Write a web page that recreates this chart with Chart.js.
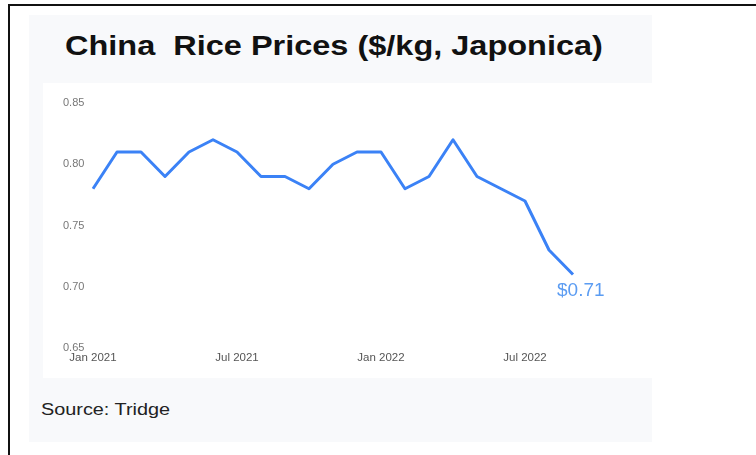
<!doctype html>
<html>

<head>
	<title>China Rice Prices</title>
	<script src="https://cdn.jsdelivr.net/npm/chart.js@4"></script>
	<style>
	body {
		margin: 0;
		background: #fff;
		font-family: 'Liberation Sans', Arial, sans-serif;
	}
	.frame {
		position: absolute;
		left: 8px;
		top: 4px;
		width: 760px;
		height: 460px;
		border-top: 2px solid #111;
		border-left: 2px solid #111;
	}
	.panel {
		position: absolute;
		left: 29px;
		top: 15px;
		width: 623px;
		height: 427px;
		background: #f8f9fb;
	}
	.title {
		position: absolute;
		left: 65px;
		top: 30px;
		font-size: 28px;
		font-weight: bold;
		color: #111;
		white-space: pre;
		transform: scaleX(1.16);
		transform-origin: left;
	}
	.plot {
		position: absolute;
		left: 43px;
		top: 83px;
		width: 609px;
		height: 295px;
		background: #fff;
	}
	.source {
		position: absolute;
		left: 41px;
		top: 401px;
		font-size: 16px;
		color: #222;
		transform: scaleX(1.24);
		transform-origin: left;
	}
	</style>
</head>

<body>
	<div class="frame"></div>
	<div class="panel"></div>
	<div class="title">China  Rice Prices ($/kg, Japonica)</div>
	<div class="plot"><canvas id="chart" width="609" height="295"></canvas></div>
	<div class="source">Source: Tridge</div>
	<script>
		var months = [
			'Jan 2021', 'Feb 2021', 'Mar 2021', 'Apr 2021', 'May 2021', 'Jun 2021',
			'Jul 2021', 'Aug 2021', 'Sep 2021', 'Oct 2021', 'Nov 2021', 'Dec 2021',
			'Jan 2022', 'Feb 2022', 'Mar 2022', 'Apr 2022', 'May 2022', 'Jun 2022',
			'Jul 2022', 'Aug 2022', 'Sep 2022'
		];
		var prices = [
			0.78, 0.81, 0.81, 0.79, 0.81, 0.82,
			0.81, 0.79, 0.79, 0.78, 0.80, 0.81,
			0.81, 0.78, 0.79, 0.82, 0.79, 0.78,
			0.77, 0.73, 0.71
		];
		var yMin = 0.65, yMax = 0.85, yStep = 0.05;

		// label next to the last point
		var lastLabel = {
			id: 'lastLabel',
			afterDatasetsDraw: function(chart) {
				var meta = chart.getDatasetMeta(0);
				var pt = meta.data[meta.data.length - 1];
				var ctx = chart.ctx;
				ctx.save();
				ctx.font = '19px "Liberation Sans", Arial, sans-serif';
				ctx.fillStyle = '#5b9cf2';
				ctx.textAlign = 'left';
				ctx.textBaseline = 'middle';
				ctx.fillText('$' + prices[prices.length - 1].toFixed(2), pt.x - 16, pt.y + 16);
				ctx.restore();
			}
		};

		window.onload = function() {
			var ctx = document.getElementById('chart').getContext('2d');
			new Chart(ctx, {
				type: 'line',
				data: {
					labels: months,
					datasets: [{
						data: prices,
						borderColor: '#3b82f6',
						borderWidth: 3,
						borderJoinStyle: 'round',
						pointRadius: 0,
						tension: 0,
						fill: false
					}]
				},
				options: {
					responsive: false,
					animation: false,
					layout: {
						padding: {left: 20, right: 79, top: 20, bottom: 0}
					},
					plugins: {
						legend: {display: false},
						tooltip: {enabled: false}
					},
					scales: {
						x: {
							offset: false,
							border: {display: false},
							grid: {display: false, drawTicks: false},
							afterFit: function(axis) { axis.height = 30; },
							ticks: {
								autoSkip: false,
								maxRotation: 0,
								padding: 3,
								color: '#555',
								font: {size: 11.5, family: 'Liberation Sans'},
								callback: function(v, i) {
									return i % 6 === 0 ? months[i] : '';
								}
							}
						},
						y: {
							min: yMin,
							max: yMax,
							border: {display: false},
							grid: {display: false, drawTicks: false},
							afterFit: function(axis) { axis.width = 30; },
							ticks: {
								stepSize: yStep,
								crossAlign: 'far',
								padding: 0,
								color: '#777',
								font: {size: 11, family: 'Liberation Sans'},
								callback: function(v) { return v.toFixed(2); }
							}
						}
					}
				},
				plugins: [lastLabel]
			});
		};
	</script>
</body>

</html>
